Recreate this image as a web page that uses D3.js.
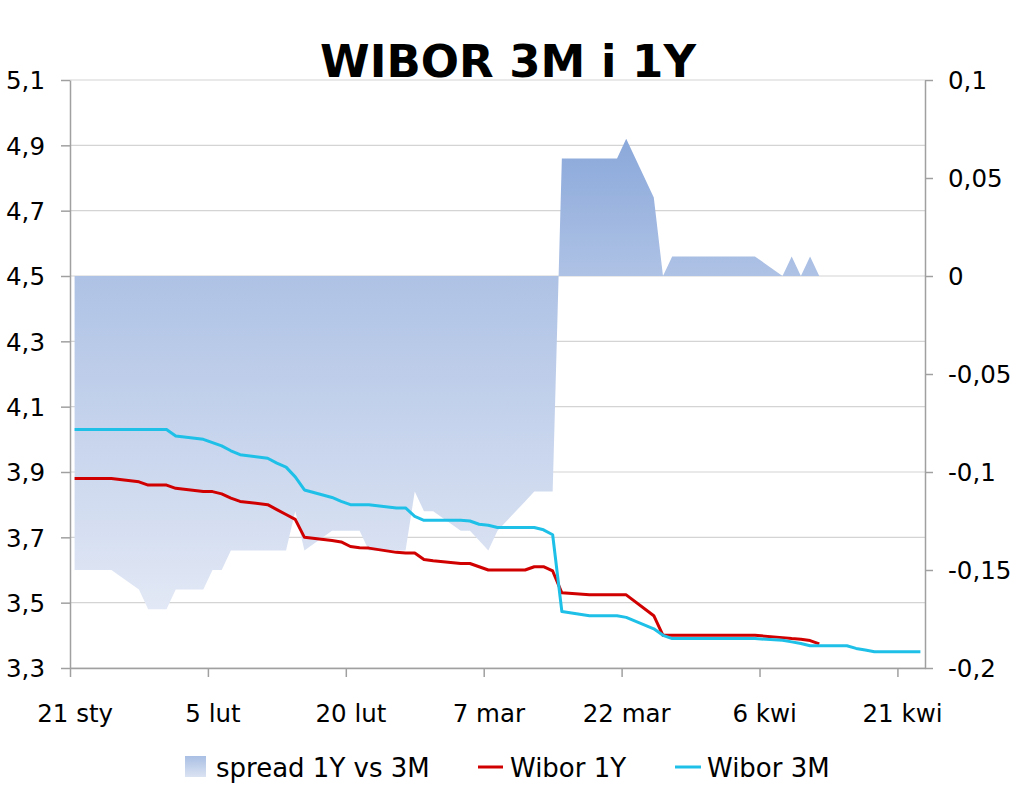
<!DOCTYPE html>
<html>
<head>
<meta charset="utf-8">
<script src="https://cdn.jsdelivr.net/npm/d3@7"></script>
<style>
  body { margin: 0; background: #fff; }
  text { font-family: "DejaVu Sans", Verdana, sans-serif; fill: #000; }
</style>
</head>
<body>
<div id="chart"></div>
<script>
// business days from 21 Jan to 23 Apr (fixing days)
const startDay = "2013-01-21", endDay = "2013-04-24";

// one value per business day, week by week
const wibor1Y = [
  3.88, 3.88, 3.88, 3.88, 3.88,
  3.87, 3.86, 3.86, 3.86, 3.85,
  3.84, 3.84, 3.833, 3.82, 3.81,
  3.80, 3.785, 3.77, 3.755, 3.70,
  3.69, 3.686, 3.672, 3.668, 3.667,
  3.654, 3.652, 3.652, 3.632, 3.628,
  3.62, 3.62, 3.61, 3.60, 3.60,
  3.60, 3.61, 3.61, 3.597, 3.53,
  3.524, 3.524, 3.524, 3.524, 3.524,
  3.46, 3.40, 3.40, 3.40, 3.40,
  3.40, 3.40, 3.40, 3.40, 3.40,
  3.393, 3.39, 3.388, 3.384, 3.374
];
const wibor3M = [
  4.03, 4.03, 4.03, 4.03, 4.03,
  4.03, 4.03, 4.03, 4.03, 4.01,
  4.00, 3.99, 3.98, 3.965, 3.953,
  3.942, 3.927, 3.915, 3.885, 3.845,
  3.822, 3.81, 3.80, 3.80, 3.80,
  3.79, 3.79, 3.764, 3.752, 3.752,
  3.752, 3.75, 3.74, 3.737, 3.73,
  3.73, 3.73, 3.723, 3.708, 3.473,
  3.46, 3.46, 3.46, 3.46, 3.455,
  3.42, 3.40, 3.39, 3.39, 3.39,
  3.39, 3.39, 3.39, 3.39, 3.39,
  3.385, 3.38, 3.375, 3.368, 3.368,
  3.368, 3.36, 3.355, 3.35, 3.35,
  3.35, 3.35
];
const spread = [
  -0.15, -0.15, -0.15, -0.15, -0.15,
  -0.16, -0.17, -0.17, -0.17, -0.16,
  -0.16, -0.15, -0.15, -0.14, -0.14,
  -0.14, -0.14, -0.14, -0.12, -0.14,
  -0.13, -0.13, -0.13, -0.13, -0.14,
  -0.14, -0.14, -0.11, -0.12, -0.12,
  -0.13, -0.13, -0.135, -0.14, -0.13,
  -0.115, -0.11, -0.11, -0.11, 0.06,
  0.06, 0.06, 0.06, 0.06, 0.07,
  0.04, 0, 0.01, 0.01, 0.01,
  0.01, 0.01, 0.01, 0.01, 0.01,
  0, 0.01, 0, 0.01, 0
];

const tickDays = ["2013-01-21", "2013-02-05", "2013-02-20", "2013-03-07", "2013-03-22", "2013-04-06", "2013-04-21"];
const tickLabels = ["21 sty", "5 lut", "20 lut", "7 mar", "22 mar", "6 kwi", "21 kwi"];
const leftTicks = [3.3, 3.5, 3.7, 3.9, 4.1, 4.3, 4.5, 4.7, 4.9, 5.1];
const rightTicks = [-0.2, -0.15, -0.1, -0.05, 0, 0.05, 0.1];
const seriesNames = ["spread 1Y vs 3M", "Wibor 1Y", "Wibor 3M"];

const width = 1024, height = 791;
const plot = { left: 70, right: 925, top: 80, bottom: 668 };

const parse = d3.utcParse("%Y-%m-%d");
const days = d3.utcDay.range(parse(startDay), parse(endDay))
  .filter(d => d.getUTCDay() % 6 !== 0);
const mid = d => d3.utcHour.offset(d, 12);   // points sit in the middle of the day
const fmt = v => String(v).replace(".", ",");

const x = d3.scaleUtc().domain([parse(startDay), parse(endDay)]).range([plot.left, plot.right]);
const yL = d3.scaleLinear().domain([3.3, 5.1]).range([plot.bottom, plot.top]);
const yR = d3.scaleLinear().domain([-0.2, 0.1]).range([plot.bottom, plot.top]);

const svg = d3.select("#chart").append("svg")
  .attr("width", width)
  .attr("height", height);

const defs = svg.append("defs");
const grad = defs.append("linearGradient").attr("id", "spreadGrad")
  .attr("x1", 0).attr("y1", 0).attr("x2", 0).attr("y2", 1);
grad.append("stop").attr("offset", 0).attr("stop-color", "#8aa8da");
grad.append("stop").attr("offset", 0.29).attr("stop-color", "#aec2e5");
grad.append("stop").attr("offset", 1).attr("stop-color", "#e2e8f5");
const legGrad = defs.append("linearGradient").attr("id", "legGrad")
  .attr("x1", 0).attr("y1", 0).attr("x2", 0).attr("y2", 1);
legGrad.append("stop").attr("offset", 0).attr("stop-color", "#a9bfe4");
legGrad.append("stop").attr("offset", 1).attr("stop-color", "#dbe3f2");

// grid
svg.append("g")
  .selectAll("line")
  .data(leftTicks)
  .join("line")
  .attr("x1", plot.left).attr("x2", plot.right)
  .attr("y1", d => yL(d)).attr("y2", d => yL(d))
  .attr("stroke", "#d4d4d4")
  .attr("stroke-width", 1.2);

// spread area
const area = d3.area()
  .x((v, i) => x(mid(days[i])))
  .y0(yR(0))
  .y1(v => yR(v));
svg.append("path")
  .datum(spread)
  .attr("d", area)
  .attr("fill", "url(#spreadGrad)");

// lines
const line = d3.line()
  .x((v, i) => x(mid(days[i])))
  .y(v => yL(v));
svg.append("path")
  .datum(wibor1Y)
  .attr("d", line)
  .attr("fill", "none")
  .attr("stroke", "#d00000")
  .attr("stroke-width", 3)
  .attr("stroke-linejoin", "round");
svg.append("path")
  .datum(wibor3M)
  .attr("d", line)
  .attr("fill", "none")
  .attr("stroke", "#1ec0e8")
  .attr("stroke-width", 3)
  .attr("stroke-linejoin", "round");

// axes
function styleAxis(g) {
  g.selectAll("path.domain").attr("stroke", "#a0a0a0").attr("stroke-width", 1.5);
  g.selectAll(".tick line").attr("stroke", "#a0a0a0").attr("stroke-width", 1.5);
  g.selectAll("text").style("font-size", "24.5px").attr("fill", "#000");
}

svg.append("g")
  .attr("transform", `translate(${plot.left},0)`)
  .call(d3.axisLeft(yL).tickValues(leftTicks).tickFormat(fmt)
    .tickSize(9).tickSizeOuter(0).tickPadding(16))
  .call(styleAxis)
  .call(g => g.selectAll("text").attr("dy", "0.36em"));

svg.append("g")
  .attr("transform", `translate(${plot.right},0)`)
  .call(d3.axisRight(yR).tickValues(rightTicks).tickFormat(fmt)
    .tickSize(8).tickSizeOuter(0).tickPadding(15))
  .call(styleAxis)
  .call(g => g.selectAll("text").attr("dy", "0.36em"));

const halfDay = x(mid(days[0])) - x(days[0]);
svg.append("g")
  .attr("transform", `translate(0,${plot.bottom})`)
  .call(d3.axisBottom(x).tickValues(tickDays.map(parse))
    .tickFormat((d, i) => tickLabels[i])
    .tickSize(9).tickSizeOuter(0))
  .call(styleAxis)
  .call(g => g.selectAll("text").attr("x", halfDay).attr("y", 54).attr("dy", 0));

// title
svg.append("text")
  .attr("x", 508)
  .attr("y", 77)
  .attr("text-anchor", "middle")
  .style("font-size", "45px")
  .style("font-weight", "bold")
  .text("WIBOR 3M i 1Y");

// legend
const leg = svg.append("g").style("font-size", "26px");
leg.append("rect")
  .attr("x", 185).attr("y", 756).attr("width", 21).attr("height", 21)
  .attr("fill", "url(#legGrad)");
leg.append("text").attr("x", 216).attr("y", 777).text(seriesNames[0]);
leg.append("line")
  .attr("x1", 478).attr("x2", 503).attr("y1", 767).attr("y2", 767)
  .attr("stroke", "#d00000").attr("stroke-width", 3);
leg.append("text").attr("x", 510).attr("y", 777).text(seriesNames[1]);
leg.append("line")
  .attr("x1", 675).attr("x2", 701).attr("y1", 767).attr("y2", 767)
  .attr("stroke", "#1ec0e8").attr("stroke-width", 3);
leg.append("text").attr("x", 707).attr("y", 777).text(seriesNames[2]);
</script>
</body>
</html>
